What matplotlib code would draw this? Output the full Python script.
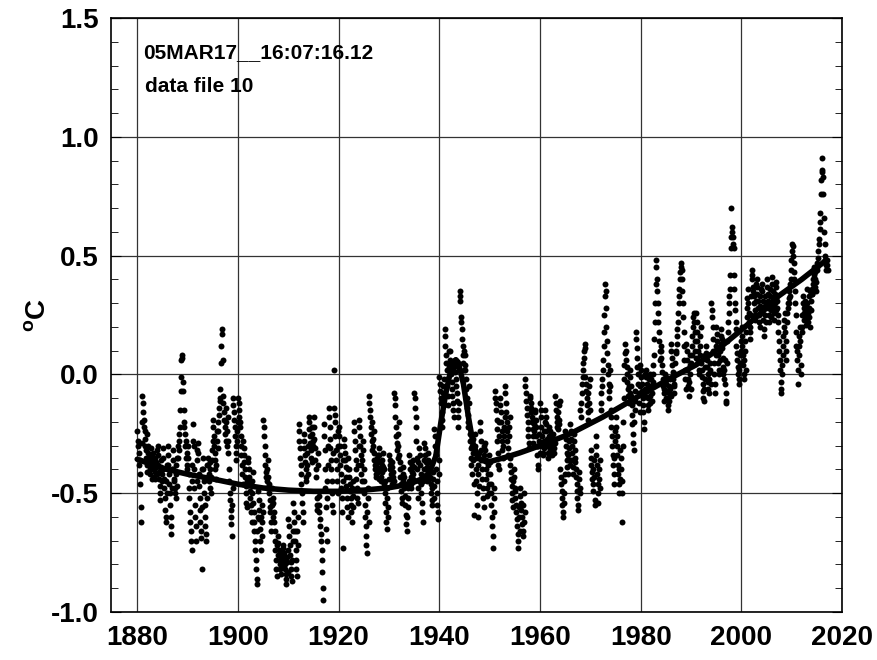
import numpy as np
import matplotlib
matplotlib.use('Agg')
import matplotlib.pyplot as plt
from matplotlib.ticker import MultipleLocator

plt.rcParams['font.family'] = ['Liberation Sans', 'DejaVu Sans']
plt.rcParams['mathtext.fontset'] = 'custom'
plt.rcParams['mathtext.bf'] = 'Liberation Sans:bold'
plt.rcParams['mathtext.rm'] = 'Liberation Sans:bold'

# monthly anomalies (degC), one list per decade
m1880s = [-0.24, -0.28, -0.30, -0.33, -0.38, -0.36, -0.42, -0.46, -0.56, -0.62, -0.29, -0.20,
          -0.09, -0.12, -0.16, -0.19, -0.22, -0.24, -0.27, -0.30, -0.32, -0.35, -0.38, -0.41,
          -0.25, -0.30, -0.33, -0.35, -0.38, -0.40, -0.36, -0.42, -0.34, -0.31, -0.44, -0.39,
          -0.33, -0.36, -0.40, -0.43, -0.38, -0.35, -0.41, -0.44, -0.37, -0.39, -0.32, -0.42,
          -0.30, -0.34, -0.38, -0.41, -0.44, -0.47, -0.50, -0.53, -0.39, -0.36, -0.45, -0.42,
          -0.31, -0.35, -0.40, -0.44, -0.48, -0.52, -0.57, -0.60, -0.62, -0.45, -0.38, -0.50,
          -0.30, -0.34, -0.38, -0.42, -0.46, -0.50, -0.55, -0.60, -0.64, -0.67, -0.48, -0.40,
          -0.32, -0.36, -0.40, -0.44, -0.45, -0.48, -0.50, -0.52, -0.42, -0.38, -0.35, -0.47,
          -0.30, -0.35, -0.32, -0.28, -0.25, -0.22, -0.15, -0.07, -0.01, 0.06, 0.08, 0.07,
          -0.03, -0.07, -0.15, -0.22, -0.20, -0.25, -0.30, -0.28, -0.35, -0.38, -0.40, -0.33]
m1890s = [-0.30, -0.35, -0.42, -0.48, -0.52, -0.58, -0.62, -0.66, -0.70, -0.74, -0.45, -0.38,
          -0.21, -0.28, -0.30, -0.40, -0.48, -0.55, -0.60, -0.64, -0.70, -0.45, -0.36, -0.32,
          -0.29, -0.33, -0.42, -0.47, -0.52, -0.57, -0.62, -0.66, -0.69, -0.82, -0.56, -0.40,
          -0.35, -0.40, -0.45, -0.50, -0.55, -0.60, -0.64, -0.67, -0.70, -0.52, -0.44, -0.38,
          -0.35, -0.38, -0.42, -0.45, -0.40, -0.37, -0.48, -0.50, -0.43, -0.36, -0.32, -0.28,
          -0.19, -0.22, -0.26, -0.30, -0.33, -0.36, -0.40, -0.44, -0.38, -0.28, -0.24, -0.31,
          -0.24, -0.20, -0.17, -0.14, -0.10, -0.11, -0.06, 0.05, 0.12, 0.17, 0.19, 0.06,
          -0.09, -0.12, -0.16, -0.19, -0.22, -0.25, -0.28, -0.20, -0.14, -0.24, -0.30, -0.18,
          -0.28, -0.33, -0.40, -0.45, -0.50, -0.53, -0.57, -0.60, -0.63, -0.68, -0.55, -0.48,
          -0.10, -0.13, -0.16, -0.19, -0.22, -0.26, -0.30, -0.33, -0.36, -0.28, -0.24, -0.20]
m1900s = [-0.10, -0.12, -0.15, -0.18, -0.20, -0.22, -0.26, -0.30, -0.34, -0.38, -0.42, -0.46,
          -0.28, -0.31, -0.34, -0.37, -0.40, -0.43, -0.47, -0.50, -0.54, -0.56, -0.45, -0.35,
          -0.37, -0.40, -0.43, -0.46, -0.49, -0.52, -0.55, -0.58, -0.62, -0.45, -0.50, -0.41,
          -0.54, -0.58, -0.62, -0.66, -0.70, -0.74, -0.78, -0.82, -0.86, -0.88, -0.66, -0.60,
          -0.49, -0.53, -0.57, -0.61, -0.65, -0.70, -0.74, -0.60, -0.55, -0.68, -0.62, -0.58,
          -0.19, -0.22, -0.26, -0.30, -0.34, -0.38, -0.41, -0.43, -0.45, -0.48, -0.40, -0.36,
          -0.43, -0.46, -0.50, -0.53, -0.56, -0.58, -0.62, -0.66, -0.55, -0.48, -0.52, -0.60,
          -0.54, -0.58, -0.62, -0.66, -0.70, -0.74, -0.78, -0.82, -0.85, -0.72, -0.68, -0.76,
          -0.71, -0.74, -0.76, -0.78, -0.80, -0.82, -0.84, -0.75, -0.77, -0.79, -0.81, -0.73,
          -0.72, -0.75, -0.78, -0.80, -0.82, -0.84, -0.86, -0.88, -0.79, -0.77, -0.83, -0.74]
m1910s = [-0.61, -0.64, -0.68, -0.72, -0.76, -0.79, -0.82, -0.85, -0.87, -0.78, -0.70, -0.66,
          -0.54, -0.58, -0.62, -0.66, -0.70, -0.74, -0.78, -0.82, -0.85, -0.66, -0.60, -0.72,
          -0.21, -0.24, -0.28, -0.31, -0.35, -0.38, -0.42, -0.46, -0.50, -0.54, -0.58, -0.62,
          -0.25, -0.28, -0.31, -0.34, -0.37, -0.40, -0.43, -0.45, -0.38, -0.33, -0.30, -0.42,
          -0.18, -0.20, -0.23, -0.26, -0.29, -0.32, -0.35, -0.37, -0.22, -0.25, -0.30, -0.28,
          -0.18, -0.22, -0.27, -0.31, -0.36, -0.40, -0.43, -0.52, -0.55, -0.57, -0.33, -0.38,
          -0.51, -0.55, -0.58, -0.61, -0.64, -0.67, -0.70, -0.74, -0.78, -0.83, -0.90, -0.95,
          -0.21, -0.26, -0.32, -0.40, -0.48, -0.56, -0.65, -0.70, -0.45, -0.52, -0.38, -0.30,
          -0.14, -0.18, -0.22, -0.27, -0.31, -0.36, -0.40, -0.45, -0.50, -0.55, -0.58, -0.33,
          0.02, -0.14, -0.17, -0.20, -0.26, -0.32, -0.36, -0.40, -0.45, -0.50, -0.30, -0.24]
m1920s = [-0.22, -0.26, -0.30, -0.34, -0.38, -0.42, -0.48, -0.52, -0.58, -0.73, -0.45, -0.36,
          -0.27, -0.30, -0.33, -0.36, -0.39, -0.43, -0.47, -0.52, -0.56, -0.60, -0.40, -0.35,
          -0.40, -0.43, -0.46, -0.49, -0.52, -0.55, -0.58, -0.62, -0.48, -0.45, -0.51, -0.56,
          -0.20, -0.24, -0.28, -0.32, -0.36, -0.40, -0.44, -0.48, -0.52, -0.54, -0.38, -0.30,
          -0.19, -0.22, -0.26, -0.30, -0.34, -0.38, -0.42, -0.45, -0.36, -0.32, -0.28, -0.40,
          -0.45, -0.50, -0.55, -0.60, -0.64, -0.68, -0.72, -0.75, -0.58, -0.52, -0.48, -0.62,
          -0.09, -0.12, -0.15, -0.18, -0.22, -0.25, -0.28, -0.32, -0.20, -0.27, -0.30, -0.24,
          -0.33, -0.36, -0.38, -0.40, -0.42, -0.43, -0.37, -0.35, -0.39, -0.41, -0.34, -0.44,
          -0.31, -0.34, -0.37, -0.40, -0.43, -0.45, -0.38, -0.36, -0.41, -0.33, -0.39, -0.46,
          -0.40, -0.45, -0.50, -0.54, -0.58, -0.62, -0.65, -0.48, -0.52, -0.56, -0.60, -0.44]
m1930s = [-0.34, -0.36, -0.38, -0.40, -0.42, -0.44, -0.46, -0.39, -0.37, -0.41, -0.43, -0.45,
          -0.08, -0.10, -0.13, -0.18, -0.22, -0.26, -0.29, -0.32, -0.35, -0.30, -0.25, -0.20,
          -0.34, -0.37, -0.40, -0.43, -0.46, -0.49, -0.52, -0.54, -0.45, -0.42, -0.39, -0.48,
          -0.43, -0.47, -0.51, -0.55, -0.59, -0.63, -0.66, -0.60, -0.56, -0.52, -0.48, -0.45,
          -0.34, -0.37, -0.40, -0.43, -0.46, -0.48, -0.41, -0.38, -0.44, -0.36, -0.42, -0.39,
          -0.08, -0.10, -0.14, -0.18, -0.22, -0.28, -0.35, -0.40, -0.48, -0.52, -0.37, -0.45,
          -0.31, -0.34, -0.38, -0.42, -0.46, -0.50, -0.54, -0.58, -0.62, -0.45, -0.40, -0.36,
          -0.29, -0.31, -0.34, -0.37, -0.40, -0.43, -0.45, -0.39, -0.36, -0.33, -0.41, -0.44,
          -0.37, -0.40, -0.43, -0.46, -0.50, -0.53, -0.55, -0.48, -0.44, -0.41, -0.52, -0.47,
          -0.23, -0.26, -0.30, -0.34, -0.40, -0.45, -0.50, -0.55, -0.58, -0.61, -0.42, -0.36]
m1940s = [-0.01, -0.04, -0.07, -0.10, -0.12, -0.16, -0.19, -0.22, -0.05, -0.08, -0.13, -0.02,
          0.19, 0.16, 0.12, 0.08, 0.05, 0.02, -0.02, -0.05, -0.09, -0.13, 0.10, 0.03,
          0.10, 0.06, 0.04, 0.02, 0.00, -0.03, -0.06, -0.09, -0.12, -0.15, -0.18, 0.03,
          0.06, 0.04, 0.01, -0.02, -0.05, -0.08, -0.11, -0.15, -0.18, -0.22, 0.02, -0.12,
          0.35, 0.33, 0.31, 0.24, 0.22, 0.19, 0.15, 0.12, 0.08, 0.05, 0.02, 0.10,
          0.08, 0.04, 0.02, -0.02, -0.06, -0.10, -0.14, -0.17, -0.20, -0.22, -0.05, -0.12,
          -0.25, -0.28, -0.31, -0.35, -0.38, -0.42, -0.30, -0.33, -0.27, -0.36, -0.46, -0.59,
          -0.25, -0.30, -0.35, -0.40, -0.45, -0.50, -0.55, -0.60, -0.38, -0.42, -0.47, -0.33,
          -0.20, -0.24, -0.28, -0.32, -0.36, -0.40, -0.44, -0.48, -0.52, -0.56, -0.34, -0.30,
          -0.29, -0.32, -0.36, -0.40, -0.44, -0.48, -0.51, -0.38, -0.42, -0.46, -0.34, -0.50]
m1950s = [-0.37, -0.42, -0.46, -0.50, -0.55, -0.60, -0.64, -0.68, -0.73, -0.52, -0.48, -0.58,
          -0.07, -0.10, -0.12, -0.15, -0.19, -0.23, -0.28, -0.33, -0.38, -0.40, -0.20, -0.26,
          -0.10, -0.13, -0.16, -0.20, -0.24, -0.28, -0.32, -0.35, -0.30, -0.22, -0.26, -0.18,
          -0.05, -0.08, -0.12, -0.16, -0.20, -0.24, -0.28, -0.31, -0.34, -0.26, -0.22, -0.18,
          -0.35, -0.38, -0.41, -0.44, -0.47, -0.50, -0.53, -0.56, -0.45, -0.40, -0.43, -0.49,
          -0.48, -0.52, -0.55, -0.58, -0.61, -0.64, -0.67, -0.70, -0.73, -0.60, -0.56, -0.66,
          -0.48, -0.51, -0.54, -0.57, -0.60, -0.63, -0.66, -0.68, -0.55, -0.50, -0.62, -0.58,
          -0.02, -0.05, -0.08, -0.11, -0.14, -0.17, -0.20, -0.23, -0.26, -0.29, -0.31, -0.10,
          -0.09, -0.12, -0.14, -0.16, -0.18, -0.20, -0.23, -0.26, -0.29, -0.24, -0.21, -0.15,
          -0.16, -0.19, -0.22, -0.26, -0.30, -0.34, -0.38, -0.40, -0.30, -0.25, -0.28, -0.33]
m1960s = [-0.12, -0.15, -0.18, -0.22, -0.26, -0.30, -0.33, -0.34, -0.28, -0.24, -0.31, -0.20,
          -0.15, -0.18, -0.21, -0.24, -0.27, -0.30, -0.33, -0.35, -0.29, -0.26, -0.22, -0.32,
          -0.24, -0.26, -0.28, -0.30, -0.32, -0.34, -0.28, -0.25, -0.31, -0.33, -0.27, -0.29,
          -0.09, -0.12, -0.15, -0.18, -0.20, -0.22, -0.23, -0.16, -0.13, -0.19, -0.21, -0.11,
          -0.40, -0.43, -0.46, -0.49, -0.52, -0.55, -0.58, -0.60, -0.45, -0.50, -0.54, -0.42,
          -0.24, -0.27, -0.30, -0.33, -0.36, -0.39, -0.42, -0.34, -0.31, -0.28, -0.38, -0.36,
          -0.21, -0.24, -0.27, -0.30, -0.33, -0.36, -0.39, -0.42, -0.28, -0.25, -0.32, -0.35,
          -0.37, -0.40, -0.43, -0.46, -0.49, -0.52, -0.55, -0.57, -0.44, -0.41, -0.48, -0.50,
          -0.15, -0.18, -0.12, -0.08, -0.04, -0.01, 0.02, 0.05, 0.07, 0.10, 0.13, 0.11,
          -0.01, -0.04, -0.07, -0.10, -0.13, -0.16, -0.19, -0.08, -0.05, -0.12, -0.15, -0.02]
m1970s = [-0.32, -0.35, -0.38, -0.41, -0.44, -0.46, -0.49, -0.40, -0.36, -0.43, -0.53, -0.55,
          -0.26, -0.30, -0.34, -0.38, -0.42, -0.46, -0.50, -0.54, -0.44, -0.40, -0.36, -0.48,
          -0.15, -0.12, -0.08, -0.05, -0.02, 0.02, 0.06, 0.12, 0.18, 0.25, 0.33, 0.38,
          0.35, 0.28, 0.20, 0.14, 0.09, 0.04, 0.00, -0.04, -0.07, -0.10, -0.05, 0.02,
          -0.15, -0.18, -0.22, -0.26, -0.30, -0.34, -0.38, -0.42, -0.46, -0.35, -0.28, -0.24,
          -0.18, -0.22, -0.26, -0.30, -0.34, -0.38, -0.42, -0.46, -0.50, -0.40, -0.32, -0.44,
          -0.35, -0.40, -0.45, -0.50, -0.62, -0.30, -0.20, -0.10, -0.02, 0.04, 0.09, 0.13,
          0.10, 0.06, 0.03, 0.00, -0.03, -0.06, -0.09, -0.12, -0.05, 0.02, -0.01, -0.08,
          -0.05, -0.09, -0.13, -0.17, -0.21, -0.25, -0.29, -0.32, -0.20, -0.15, -0.11, -0.07,
          0.18, 0.15, 0.11, 0.07, 0.03, 0.00, -0.04, -0.08, -0.12, -0.16, -0.05, 0.04]
m1980s = [0.02, -0.01, -0.04, -0.07, -0.10, -0.13, -0.16, -0.20, -0.23, -0.06, 0.00, -0.09,
          0.02, -0.01, -0.04, -0.07, -0.10, -0.13, -0.15, -0.05, -0.02, -0.09, -0.12, 0.00,
          -0.02, -0.05, -0.08, -0.11, -0.03, 0.00, 0.04, 0.08, 0.15, 0.22, 0.30, 0.38,
          0.48, 0.45, 0.40, 0.35, 0.30, 0.26, 0.22, 0.18, 0.14, 0.10, 0.06, 0.12,
          0.10, 0.07, 0.04, 0.01, -0.02, -0.05, -0.08, -0.11, -0.06, -0.03, 0.00, -0.10,
          -0.01, -0.04, -0.07, -0.10, -0.13, -0.15, -0.08, -0.05, -0.11, -0.02, -0.06, -0.09,
          0.13, 0.10, 0.07, 0.04, 0.01, -0.02, -0.05, -0.08, -0.04, 0.00, 0.05, 0.09,
          0.10, 0.13, 0.16, 0.19, 0.22, 0.26, 0.30, 0.33, 0.36, 0.40, 0.43, 0.45,
          0.47, 0.44, 0.40, 0.35, 0.30, 0.24, 0.18, 0.12, 0.06, 0.02, -0.02, -0.06,
          0.13, 0.10, 0.06, 0.02, -0.02, -0.05, -0.09, -0.03, 0.00, 0.04, 0.08, -0.06]
m1990s = [0.05, 0.08, 0.12, 0.16, 0.20, 0.24, 0.26, 0.22, 0.18, 0.14, 0.10, 0.07,
          0.26, 0.22, 0.18, 0.14, 0.10, 0.06, 0.02, 0.00, 0.08, 0.12, 0.16, 0.20,
          0.05, 0.02, -0.01, -0.04, -0.07, -0.10, -0.11, -0.06, -0.02, 0.03, 0.08, 0.12,
          0.09, 0.06, 0.03, 0.00, -0.03, -0.06, -0.08, -0.02, 0.02, 0.05, 0.01, -0.04,
          0.30, 0.27, 0.24, 0.20, 0.15, 0.10, 0.05, 0.00, -0.04, -0.08, 0.12, 0.08,
          0.20, 0.17, 0.14, 0.11, 0.08, 0.05, 0.02, 0.00, 0.06, 0.10, 0.13, 0.16,
          0.19, 0.15, 0.11, 0.07, 0.03, 0.00, -0.02, 0.02, 0.06, -0.04, -0.08, -0.11,
          -0.12, 0.05, 0.14, 0.18, 0.22, 0.26, 0.30, 0.33, 0.36, 0.42, 0.53, 0.58,
          0.70, 0.62, 0.60, 0.58, 0.55, 0.53, 0.42, 0.36, 0.30, 0.27, 0.19, 0.22,
          0.12, 0.09, 0.06, 0.03, 0.00, -0.02, -0.04, 0.02, 0.05, 0.08, 0.10, 0.14]
m2000s = [0.20, 0.16, 0.12, 0.08, 0.04, 0.00, -0.02, 0.06, 0.10, 0.14, 0.18, 0.02,
          0.24, 0.28, 0.32, 0.36, 0.30, 0.26, 0.22, 0.18, 0.15, 0.20, 0.33, 0.25,
          0.44, 0.42, 0.40, 0.37, 0.35, 0.33, 0.30, 0.27, 0.25, 0.23, 0.38, 0.31,
          0.40, 0.37, 0.34, 0.31, 0.28, 0.25, 0.22, 0.20, 0.33, 0.29, 0.36, 0.26,
          0.38, 0.35, 0.31, 0.27, 0.23, 0.19, 0.16, 0.25, 0.29, 0.33, 0.22, 0.30,
          0.40, 0.37, 0.34, 0.31, 0.28, 0.25, 0.22, 0.30, 0.33, 0.36, 0.27, 0.24,
          0.41, 0.38, 0.35, 0.32, 0.29, 0.26, 0.23, 0.30, 0.34, 0.37, 0.27, 0.39,
          0.31, 0.28, 0.25, 0.22, 0.18, 0.14, 0.10, 0.06, 0.02, -0.03, -0.06, -0.08,
          0.00, 0.04, 0.08, 0.12, 0.16, 0.20, 0.23, 0.26, 0.18, 0.10, 0.06, 0.14,
          0.22, 0.26, 0.30, 0.28, 0.32, 0.35, 0.30, 0.38, 0.33, 0.40, 0.44, 0.48]
m2010s = [0.52, 0.55, 0.54, 0.50, 0.47, 0.43, 0.40, 0.35, 0.30, 0.25, 0.18, 0.12,
          0.10, 0.06, 0.02, -0.04, 0.08, 0.12, 0.16, 0.20, 0.14, 0.04, 0.00, 0.18,
          0.20, 0.25, 0.30, 0.33, 0.28, 0.23, 0.26, 0.31, 0.29, 0.24, 0.21, 0.27,
          0.36, 0.30, 0.26, 0.22, 0.33, 0.28, 0.24, 0.20, 0.35, 0.31, 0.27, 0.34,
          0.34, 0.36, 0.38, 0.40, 0.42, 0.45, 0.40, 0.37, 0.43, 0.39, 0.35, 0.44,
          0.45, 0.47, 0.49, 0.52, 0.55, 0.57, 0.61, 0.64, 0.68, 0.76, 0.82, 0.85,
          0.91, 0.86, 0.83, 0.76, 0.66, 0.60, 0.55, 0.50, 0.48, 0.46, 0.44, 0.48,
          0.46, 0.44]

fit_year = [1880, 1885, 1890, 1895, 1900, 1905, 1910, 1915, 1920, 1925, 1930, 1934,
            1936.5, 1938, 1939.3, 1940.3, 1941.3, 1942.3, 1942.8, 1943.3, 1943.8,
            1944.8, 1945.8, 1946.8, 1948, 1949.5, 1953, 1956, 1960, 1966, 1972.6,
            1980, 1986, 1991, 1995, 2000, 2004, 2007.4, 2012, 2016.8]
fit_val = [-0.357, -0.395, -0.42, -0.44, -0.462, -0.478, -0.487, -0.492, -0.492, -0.487,
           -0.477, -0.462, -0.44, -0.415, -0.345, -0.205, -0.08, 0.02, 0.05, 0.062, 0.05,
           -0.04, -0.18, -0.30, -0.355, -0.37, -0.35, -0.33, -0.30, -0.25, -0.178,
           -0.087, -0.015, 0.04, 0.10, 0.187, 0.26, 0.33, 0.40, 0.48]

anom = np.concatenate([m1880s, m1890s, m1900s, m1910s, m1920s, m1930s, m1940s,
                       m1950s, m1960s, m1970s, m1980s, m1990s, m2000s, m2010s])
t = 1880 + (np.arange(len(anom)) + 0.5) / 12.0

fig = plt.figure(figsize=(8.77, 6.6), dpi=100)
ax = fig.add_axes([0.1266, 0.0727, 0.8335, 0.9], facecolor='white')

ax.plot(t, anom, 'o', color='black', ms=4.3, mew=0, zorder=3)
ax.plot(fit_year, fit_val, '-', color='black', lw=4.0, solid_capstyle='round',
        solid_joinstyle='round', zorder=4)

ax.set_xlim(1874.8, 2020)
ax.set_ylim(-1.0, 1.5)
ax.set_xticks(np.arange(1880, 2021, 20))
ax.yaxis.set_major_locator(MultipleLocator(0.5))
ax.yaxis.set_minor_locator(MultipleLocator(0.1))
ax.set_yticklabels(['%.1f' % v for v in ax.get_yticks()])
ax.grid(True, which='major', color='#333333', lw=0.9)

ax.tick_params(axis='x', which='major', direction='in', length=0, pad=9,
               labelsize=20)
ax.tick_params(axis='y', which='major', direction='in', length=7, pad=9,
               labelsize=20, right=True)
ax.tick_params(axis='y', which='minor', direction='in', length=5, right=True)
for lab in ax.get_xticklabels() + ax.get_yticklabels():
    lab.set_fontweight('bold')
for sp in ax.spines.values():
    sp.set_linewidth(1.2)

ax.set_ylabel(r'$\mathbf{^{o}C}$', fontsize=20, labelpad=0)

ax.text(0.0438, 0.9327, '05MAR17__16:07:16.12', transform=ax.transAxes,
        fontsize=15, fontweight='bold', va='baseline')
ax.text(0.0465, 0.8754, 'data file 10', transform=ax.transAxes,
        fontsize=15, fontweight='bold', va='baseline')

fig.savefig('out.png', dpi=100)
